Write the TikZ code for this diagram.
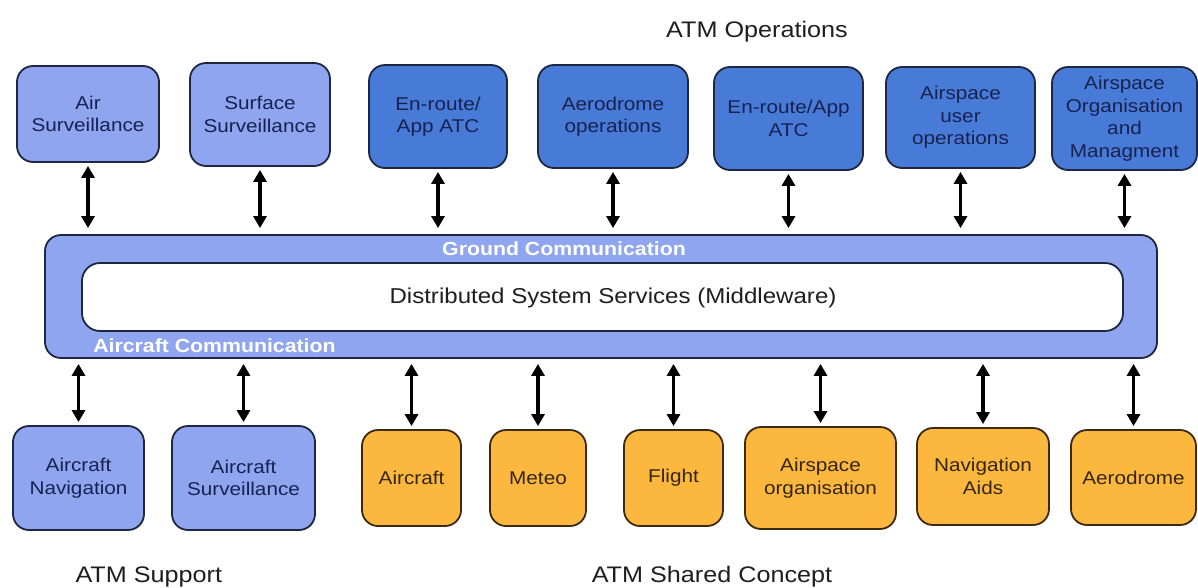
\documentclass[tikz,border=0pt]{standalone}
\usepackage{fontspec}
\setmainfont[FakeStretch=1.12]{Liberation Sans}
\usetikzlibrary{arrows.meta}
\definecolor{lblue}{RGB}{143,165,240}
\definecolor{dblue}{RGB}{72,122,215}
\definecolor{orng}{RGB}{251,183,62}
\definecolor{navy}{RGB}{30,38,64}
\definecolor{brwn}{RGB}{61,42,14}
\definecolor{btext}{RGB}{24,34,80}
\definecolor{otext}{RGB}{52,38,16}
\definecolor{htext}{RGB}{30,30,30}
\tikzset{
  box/.style={draw=navy, line width=1.8pt, rounded corners=16pt, align=center,
    inner sep=0pt, text=btext, font=\fontsize{18.5}{22.5}\selectfont},
  lbox/.style={box, fill=lblue},
  dbox/.style={box, fill=dblue},
  obox/.style={box, fill=orng, draw=brwn, text=otext},
  band/.style={draw=navy, line width=1.8pt, rounded corners=16pt, fill=lblue},
  inner/.style={draw=navy, line width=1.8pt, rounded corners=18pt, fill=white},
  biarrow/.style={line width=3.2pt, {Triangle[width=13pt,length=12pt]}-{Triangle[width=13pt,length=12pt]}},
  heading/.style={text=htext, font=\fontsize{22.5}{26}\selectfont, anchor=base},
  commlabel/.style={text=white, font=\bfseries\fontsize{19}{22}\selectfont},
}
\begin{document}
\begin{tikzpicture}[x=1pt,y=-1pt]
\path[use as bounding box, fill=white] (0,0) rectangle (1198,587);

\node[heading] (hops) at (757,37) {ATM Operations};
\node[heading, anchor=base west] (hsup) at (72,582) {ATM Support};
\node[heading] (hshr) at (712,582) {ATM Shared Concept};

% top row
\node[lbox, minimum width=142pt, minimum height=96pt] (t1) at (88,114) {Air\\Surveillance};
\node[lbox, minimum width=140pt, minimum height=103pt] (t2) at (260,114.5) {Surface\\Surveillance};
\node[dbox, minimum width=138pt, minimum height=103pt] (t3) at (438,116.5) {En-route/\\App ATC};
\node[dbox, minimum width=150pt, minimum height=103pt] (t4) at (613,116.5) {Aerodrome\\operations};
\node[dbox, minimum width=149pt, minimum height=103pt] (t5) at (788.5,118.5) {En-route/App\\ATC};
\node[dbox, minimum width=149pt, minimum height=101pt] (t6) at (960.5,117.5) {Airspace\\user\\operations};
\node[dbox, minimum width=145pt, minimum height=103pt] (t7) at (1124.5,118.5) {Airspace\\Organisation\\and\\Managment};

% band
\node[band, minimum width=1112pt, minimum height=123pt] (band) at (601,296.5) {};
\node[inner, minimum width=1041pt, minimum height=68pt] (mid) at (602.5,297) {};
\node[text=htext, font=\fontsize{21.5}{24}\selectfont] (midlabel) at (613,298) {Distributed System Services (Middleware)};
\node[commlabel] (ground) at (564,249) {Ground Communication};
\node[commlabel] (aircomm) at (214.5,346) {Aircraft Communication};

% bottom row
\node[lbox, minimum width=131pt, minimum height=104pt] (b1) at (78.5,478) {Aircraft\\Navigation};
\node[lbox, minimum width=143pt, minimum height=104pt] (b2) at (243.5,478) {Aircraft\\Surveillance};
\node[obox, minimum width=99pt, minimum height=96pt] (b3) at (411.5,478) {Aircraft};
\node[obox, minimum width=96pt, minimum height=96pt] (b4) at (538,478) {Meteo};
\node[obox, minimum width=99pt, minimum height=96pt] (b5) at (673.5,478) {Flight};
\node[obox, minimum width=151pt, minimum height=102pt] (b6) at (820.5,478) {Airspace\\organisation};
\node[obox, minimum width=132pt, minimum height=97pt] (b7) at (983,476.5) {Navigation\\Aids};
\node[obox, minimum width=125pt, minimum height=95pt] (b8) at (1133.5,477.5) {Aerodrome};

% top arrows
\foreach \n in {t1,t2,t3,t4,t5,t6,t7}
  \draw[biarrow, shorten <=3pt, shorten >=6pt] (\n.south) -- (\n.south |- band.north);
% bottom arrows
\foreach \n in {b1,b2,b3,b4,b5,b6,b7,b8}
  \draw[biarrow, shorten <=5pt, shorten >=3pt] (\n.north |- band.south) -- (\n.north);
\end{tikzpicture}
\end{document}
